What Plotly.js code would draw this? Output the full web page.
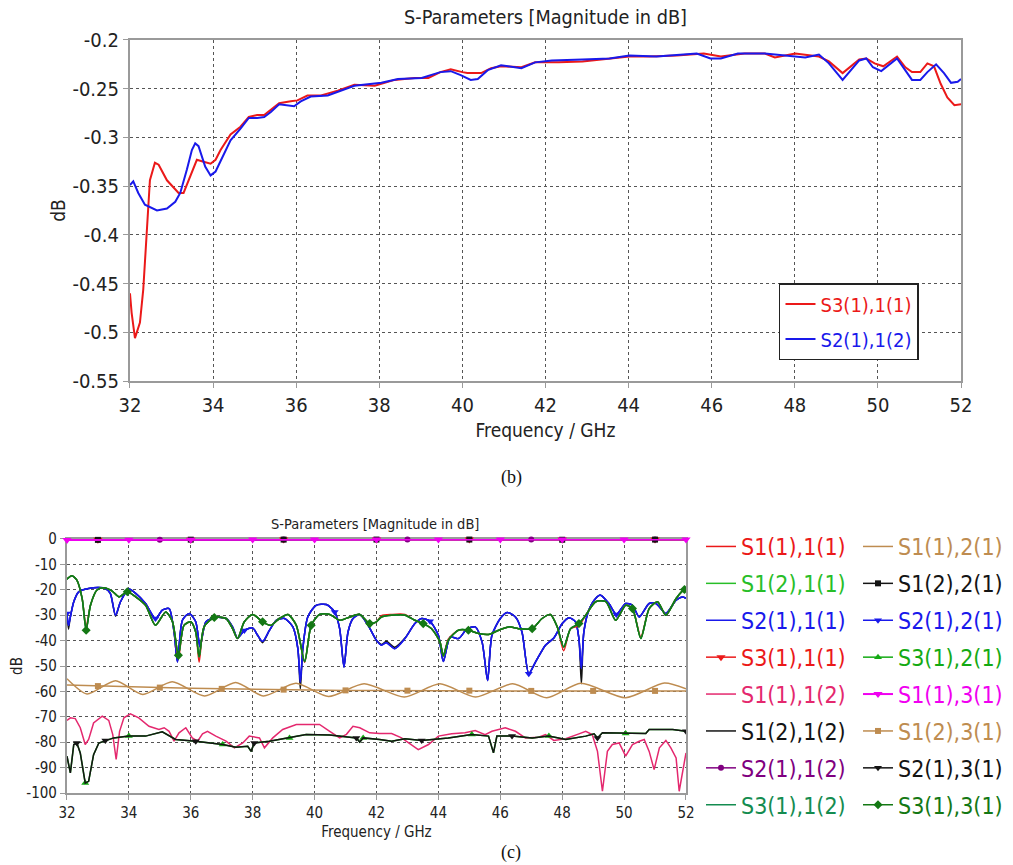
<!DOCTYPE html>
<html><head><meta charset="utf-8">
<script src="https://cdn.plot.ly/plotly-3.0.1.min.js"></script>
<style>html,body{margin:0;padding:0;background:#fff}#chart{width:1013px;height:865px}</style>
</head><body><div id="chart"></div>
<script>
// ---------- Top chart (b) ----------
const topRedF = [32, 32.04, 32.12, 32.24, 32.32, 32.4, 32.48, 32.6, 32.69, 32.89, 33.17, 33.29, 33.45, 33.61, 33.77, 33.94, 34.06, 34.18, 34.42, 34.66, 34.86, 35.06, 35.23, 35.39, 35.59, 35.87, 36.03, 36.27, 36.6, 37.0, 37.4, 37.89, 38.13, 38.37, 38.85, 39.18, 39.47, 39.72, 40, 40.12, 40.45, 40.69, 40.93, 41.42, 41.75, 42.32, 42.89, 43.54, 44.02, 44.51, 45.16, 45.81, 46.22, 46.79, 47.28, 47.52, 48.01, 48.58, 48.82, 49.15, 49.55, 49.72, 49.92, 50.13, 50.46, 50.66, 50.82, 51.02, 51.19, 51.35, 51.51, 51.67, 51.84, 52];
const topRedV = [-0.46, -0.48, -0.506, -0.49, -0.456, -0.395, -0.344, -0.326, -0.328, -0.344, -0.357, -0.357, -0.34, -0.323, -0.325, -0.327, -0.323, -0.313, -0.297, -0.289, -0.279, -0.277, -0.277, -0.272, -0.265, -0.263, -0.262, -0.257, -0.257, -0.252, -0.246, -0.247, -0.244, -0.241, -0.239, -0.239, -0.233, -0.23, -0.233, -0.234, -0.234, -0.229, -0.227, -0.228, -0.223, -0.223, -0.222, -0.219, -0.217, -0.217, -0.216, -0.214, -0.217, -0.214, -0.214, -0.218, -0.214, -0.217, -0.222, -0.234, -0.22, -0.219, -0.224, -0.227, -0.217, -0.228, -0.233, -0.233, -0.224, -0.227, -0.245, -0.259, -0.267, -0.266];
const topBlueF = [32, 32.08, 32.2, 32.36, 32.65, 32.89, 33.09, 33.21, 33.37, 33.49, 33.57, 33.65, 33.81, 33.94, 34.06, 34.22, 34.42, 34.66, 34.86, 35.06, 35.23, 35.39, 35.59, 35.95, 36.11, 36.35, 36.76, 37.4, 38.05, 38.45, 39.02, 39.47, 39.72, 39.96, 40.2, 40.37, 40.61, 40.93, 41.42, 41.75, 42.15, 42.89, 43.54, 44.02, 44.67, 45.64, 45.97, 46.22, 46.63, 47.28, 47.76, 48.01, 48.25, 48.58, 48.82, 49.15, 49.55, 49.72, 49.88, 50.08, 50.46, 50.82, 51.02, 51.19, 51.4, 51.59, 51.76, 51.92, 52];
const topBlueV = [-0.349, -0.345, -0.357, -0.369, -0.375, -0.373, -0.366, -0.357, -0.333, -0.313, -0.306, -0.309, -0.33, -0.339, -0.335, -0.321, -0.303, -0.291, -0.28, -0.28, -0.279, -0.274, -0.266, -0.268, -0.263, -0.258, -0.257, -0.247, -0.244, -0.24, -0.239, -0.233, -0.232, -0.236, -0.241, -0.24, -0.231, -0.226, -0.229, -0.223, -0.221, -0.22, -0.219, -0.216, -0.217, -0.214, -0.219, -0.219, -0.214, -0.214, -0.216, -0.217, -0.218, -0.215, -0.224, -0.241, -0.221, -0.219, -0.228, -0.232, -0.219, -0.241, -0.241, -0.233, -0.225, -0.234, -0.244, -0.243, -0.24];
const topXTicks = [32, 34, 36, 38, 40, 42, 44, 46, 48, 50, 52];
const topYTickVals = [-0.55, -0.5, -0.45, -0.4, -0.35, -0.3, -0.25, -0.2];
const topYTickText = ['-0.55', '-0.5', '-0.45', '-0.4', '-0.35', '-0.3', '-0.25', '-0.2'];

// ---------- Bottom chart (c) ----------
const botYTickVals = [-100, -90, -80, -70, -60, -50, -40, -30, -20, -10, 0];
const botYTickText = ['-100', '-90', '-80', '-70', '-60', '-50', '-40', '-30', '-20', '-10', '0'];
// blue group
const blueF = [32, 32.05, 32.1, 32.22, 32.38, 32.7, 33.03, 33.24, 33.4, 33.57, 33.73, 34, 34.22, 34.54, 34.86, 35.08, 35.3, 35.46, 35.57, 35.73, 35.95, 36.16, 36.3, 36.49, 36.81, 37.14, 37.35, 37.51, 37.73, 38, 38.16, 38.32, 38.54, 38.76, 39.03, 39.3, 39.46, 39.54, 39.62, 39.78, 40.05, 40.38, 40.65, 40.81, 40.95, 41.08, 41.24, 41.46, 41.73, 42, 42.16, 42.32, 42.59, 42.92, 43.24, 43.46, 43.73, 44, 44.16, 44.38, 44.65, 44.92, 45.19, 45.41, 45.59, 45.73, 46, 46.22, 46.49, 46.7, 46.92, 47.14, 47.46, 47.73, 48, 48.22, 48.43, 48.54, 48.62, 48.7, 48.86, 49.08, 49.24, 49.51, 49.75, 50.05, 50.27, 50.49, 50.81, 51.03, 51.35, 51.68, 51.89, 52];
const blueV = [-29.3, -34, -31.3, -24.7, -20.8, -19.5, -19.1, -19.5, -21.4, -30, -24.7, -19.7, -21.4, -25.4, -31.3, -28, -27.4, -36.6, -48.4, -32, -29.3, -32.6, -42.5, -32.6, -30.9, -31.3, -34.6, -39, -36, -35, -37.9, -40.3, -36, -32, -31.3, -34.6, -43.2, -56.3, -43.2, -30.7, -26.1, -25.8, -28.7, -35.3, -50.4, -36.6, -31.3, -29.7, -34, -39.9, -41.8, -40.8, -43.2, -39.2, -33.3, -31.3, -32.4, -37.9, -48.2, -38.6, -39.2, -35.5, -34.6, -40.5, -55.7, -37.9, -31.3, -28.9, -30.7, -36.6, -53, -48.4, -41.8, -39, -33.3, -31, -32.6, -39.2, -51, -36.6, -28, -23.4, -22.1, -25.4, -29.7, -25.4, -26.1, -30.7, -25.4, -25.4, -29.3, -24.1, -22.8, -23.4];
const blackRetV = [-29.3, -35.5, -31.3, -24.7, -20.8, -19.5, -19.1, -19.5, -21.4, -30.4, -24.7, -19.7, -21.4, -25.4, -31.6, -28, -27.4, -36.6, -48.4, -32, -29.3, -32.6, -42.5, -32.6, -30.9, -31.3, -34.6, -39, -36, -35, -37.9, -40.8, -36, -32, -31.3, -34.6, -43.2, -59, -43.2, -30.7, -26.1, -25.8, -28.7, -35.3, -50.4, -36.6, -31.3, -29.7, -34, -39.9, -41.5, -40.3, -42.6, -39, -33.3, -31.3, -32.4, -37.9, -48.2, -38.6, -39.2, -35.5, -34.6, -40.5, -55.7, -37.9, -31.3, -28.9, -30.7, -36.6, -53, -48.4, -41.8, -39, -33.3, -31, -32.6, -39.2, -57, -36.6, -28, -23.4, -22.1, -25.4, -29.7, -25.4, -26.1, -30.7, -25.4, -25.4, -29.3, -24.1, -22.8, -23.4];
// green group
const greenF = [32, 32.16, 32.32, 32.49, 32.62, 32.76, 32.97, 33.19, 33.46, 33.68, 33.95, 34.22, 34.54, 34.86, 35.19, 35.41, 35.6, 35.78, 36, 36.16, 36.27, 36.43, 36.76, 37.14, 37.35, 37.51, 37.73, 38, 38.32, 38.59, 38.86, 39.14, 39.41, 39.68, 39.89, 40.16, 40.49, 40.81, 41.14, 41.46, 41.78, 42, 42.16, 42.49, 42.92, 43.24, 43.51, 43.78, 44.05, 44.16, 44.32, 44.65, 44.97, 45.3, 45.62, 45.95, 46.27, 46.59, 47.03, 47.35, 47.62, 47.84, 48.05, 48.27, 48.54, 48.76, 49.08, 49.41, 49.73, 50.05, 50.27, 50.54, 50.81, 51.08, 51.35, 51.68, 51.95, 52];
const greenV = [-15.8, -14.5, -16.2, -23.4, -35.9, -26.1, -20.1, -19.2, -20.5, -22.8, -20.8, -22.8, -26.1, -34, -28.7, -32.6, -45.8, -34, -32.6, -36.6, -46.4, -34.6, -30.9, -31.3, -35.3, -39.2, -32.6, -29.7, -32.6, -34, -31.3, -29.7, -34, -48.2, -34, -29.7, -29.7, -32, -30.7, -29.7, -33.3, -32.6, -30.7, -30, -30, -32, -33.3, -35.3, -40.5, -46, -39.9, -35.9, -35.9, -37.2, -37.6, -35.9, -34.6, -35.3, -35.3, -31.3, -29.7, -34.6, -42.5, -35.3, -33.3, -30, -24.7, -24.7, -32, -26.1, -27.4, -39.2, -27.4, -24.7, -30, -23.4, -19.9, -20.1];
const redRetV = [-15.8, -14.5, -16.2, -23.4, -34.5, -26.1, -20.1, -19.2, -20.5, -22.8, -20.8, -22.8, -26.1, -34, -28.7, -32.6, -47, -34, -32.6, -36.6, -48.5, -34.6, -30.9, -31.3, -35.3, -39.2, -32.6, -29.7, -32.6, -34, -31.3, -29.7, -34, -48.5, -34, -29.7, -29.7, -32, -30.7, -29.7, -33.3, -32.6, -30.2, -29.7, -29.7, -32, -33.3, -35.3, -40.5, -46, -39.4, -35.9, -35.9, -37.2, -37.6, -35.9, -34.6, -35.3, -35.3, -31.3, -29.7, -34.6, -44, -35.3, -34.2, -30, -24.7, -24.7, -32, -26.1, -27.4, -38.5, -27.4, -24.7, -30, -23.4, -19.9, -20.1];
// brown pair
const brownOscF = [32, 32.65, 33.57, 34.45, 35.4, 36.45, 37.45, 38.35, 39.4, 40.45, 41.6, 42.9, 44.05, 45.2, 46.4, 47.5, 48.6, 50.05, 51.3, 52];
const brownOscV = [-55, -61, -55.8, -61.2, -56.2, -61.8, -56.5, -61.8, -56.8, -62, -57, -62.2, -57, -62.2, -57, -62.5, -56.8, -62.5, -56.7, -59];
const freq1 = [32, 33, 34, 35, 36, 37, 38, 39, 40, 41, 42, 43, 44, 45, 46, 47, 48, 49, 50, 51, 52];
const brownFlatV = [-57.5, -57.9, -58.2, -58.5, -58.8, -59.0, -59.2, -59.3, -59.5, -59.6, -59.6, -59.7, -59.7, -59.7, -59.8, -59.8, -59.8, -59.8, -59.8, -59.8, -59.8];
// low-level curves
const pinkF = [32, 32.11, 32.27, 32.43, 32.59, 32.7, 32.86, 33.14, 33.35, 33.48, 33.59, 33.7, 33.84, 34.05, 34.32, 34.65, 34.97, 35.14, 35.3, 35.46, 35.62, 35.84, 36.05, 36.22, 36.38, 36.54, 36.81, 37.14, 37.41, 37.68, 37.89, 38.22, 38.38, 38.65, 38.97, 39.41, 39.84, 40.16, 40.49, 40.81, 41.03, 41.24, 41.46, 41.78, 42.1, 42.49, 42.81, 43.35, 43.68, 44, 44.43, 44.86, 45.19, 45.51, 45.73, 45.95, 46.16, 46.49, 46.81, 47.24, 47.46, 47.73, 48.11, 48.54, 48.76, 48.97, 49.14, 49.3, 49.46, 49.62, 49.84, 50.05, 50.27, 50.49, 50.65, 50.81, 50.97, 51.14, 51.35, 51.51, 51.68, 51.78, 51.95, 52];
const pinkV = [-71.4, -70.4, -70.7, -74.3, -80.9, -78.9, -72.4, -69.7, -71.4, -77, -86.8, -75.7, -70.4, -68.8, -70.4, -73.7, -75, -74.3, -75.7, -79.6, -76.3, -74.3, -78.3, -79.6, -76.7, -75.7, -77.6, -79.6, -82.2, -80.3, -77.6, -78.3, -82.2, -78.3, -75, -73, -73, -73, -75.7, -78.3, -76.9, -73.7, -74.3, -76.3, -76.6, -76.6, -78.3, -82.9, -80.9, -77.6, -76.7, -76.3, -75.4, -77, -75.7, -75, -74.3, -75.7, -78.3, -78, -77, -79.3, -78.6, -76.7, -75.7, -77, -83.6, -99.3, -83.6, -80.9, -80.3, -85.5, -80.9, -79.6, -78.9, -83.6, -90.8, -82.2, -79.3, -82.2, -86.2, -99.3, -87.5, -84.2];
const lowBlackF = [32, 32.11, 32.22, 32.32, 32.43, 32.59, 32.7, 32.86, 33.03, 33.24, 33.51, 34, 34.54, 35.08, 35.51, 36.16, 36.59, 37.03, 37.46, 37.84, 37.95, 38.05, 38.54, 39.19, 39.73, 40.49, 41.03, 41.35, 41.46, 41.57, 42.1, 42.49, 42.92, 43.46, 44.32, 45.08, 45.62, 45.78, 45.89, 46.38, 47.03, 47.57, 48.11, 48.76, 49.03, 49.14, 49.3, 50.05, 50.7, 50.81, 51.57, 52];
const lowBlackV = [-85.5, -92.1, -80.9, -80.3, -84.2, -96.1, -95.4, -84.9, -80.3, -79.3, -78.3, -77.6, -77.6, -75.9, -78.9, -79.6, -80.3, -80.9, -82, -81.6, -83.6, -80.3, -79.6, -78.3, -77, -77.2, -78, -78.3, -79.9, -78.3, -78.9, -79.6, -78.6, -79.3, -78.3, -77, -77.6, -84.2, -77.6, -77.6, -78.3, -77.6, -78.9, -77.6, -76.7, -78.3, -76.3, -76.6, -76.6, -75, -75, -75.7];
// near 0 dB curves (1 GHz steps)
const s31V = [-0.46, -0.35, -0.325, -0.278, -0.262, -0.252, -0.246, -0.239, -0.233, -0.227, -0.223, -0.222, -0.217, -0.216, -0.216, -0.214, -0.214, -0.228, -0.225, -0.233, -0.266];
const s21_12V = [-0.349, -0.37, -0.337, -0.28, -0.266, -0.251, -0.244, -0.239, -0.236, -0.226, -0.222, -0.22, -0.216, -0.216, -0.219, -0.214, -0.217, -0.233, -0.231, -0.241, -0.24];
const s12_21V = [-0.4, -0.36, -0.33, -0.29, -0.27, -0.26, -0.25, -0.24, -0.24, -0.23, -0.23, -0.22, -0.22, -0.22, -0.22, -0.25, -0.3, -0.24, -0.23, -0.24, -0.25];
const s11_31V = [-0.38, -0.35, -0.32, -0.29, -0.27, -0.26, -0.25, -0.24, -0.24, -0.23, -0.23, -0.22, -0.22, -0.22, -0.22, -0.22, -0.22, -0.23, -0.23, -0.24, -0.25];

const FONT = '"DejaVu Sans Condensed", "DejaVu Sans", sans-serif';
const C = {
  red: 'rgb(235,25,25)', green: 'rgb(40,190,40)', blue: 'rgb(25,25,235)', pink: 'rgb(228,40,110)',
  black: 'rgb(20,20,20)', purple: 'rgb(128,0,128)', teal: 'rgb(20,140,80)', brown: 'rgb(190,140,80)',
  magenta: 'rgb(240,0,240)', green2: 'rgb(20,170,20)', dkgreen: 'rgb(20,120,20)'
};
const lbl = (t, c) => '<span style="color:' + c + '">' + t + '</span>';

function tr(x, y, name, color, opts) {
  opts = opts || {};
  const t = {
    type: 'scatter', x: x, y: y, xaxis: 'x2', yaxis: 'y2', name: lbl(name, color),
    legend: opts.legend, legendrank: opts.rank, legendgroup: name,
    mode: opts.symbol ? 'lines+markers' : 'lines',
    line: {color: color, width: opts.width || 1.5, shape: opts.spline ? 'spline' : 'linear', smoothing: 0.7},
    cliponaxis: opts.clip === false ? false : true, hoverinfo: 'skip'
  };
  if (opts.symbol) t.marker = {symbol: opts.symbol, size: opts.size || 7, color: color, maxdisplayed: opts.maxd || 8};
  return t;
}

const data = [
  {type:'scatter', x: topRedF, y: topRedV, name: lbl('S3(1),1(1)', C.red), legend: 'legend', legendgroup:'t1', mode:'lines', line:{color:C.red, width:2}, hoverinfo:'skip'},
  {type:'scatter', x: topBlueF, y: topBlueV, name: lbl('S2(1),1(2)', C.blue), legend: 'legend', legendgroup:'t2', mode:'lines', line:{color:C.blue, width:2}, hoverinfo:'skip'},

  tr(blueF, blackRetV, 'S1(2),1(2)', C.black, {legend:'legend2', rank:6, spline:true}),
  tr(blueF, blueV, 'S2(1),1(1)', C.blue, {legend:'legend2', rank:3, spline:true}),
  tr(blueF, blueV, 'S2(1),2(1)', C.blue, {legend:'legend3', rank:3, spline:true, symbol:'triangle-down', maxd:7}),
  tr(greenF, redRetV, 'S1(1),1(1)', C.red, {legend:'legend2', rank:1, spline:true}),
  tr(greenF, greenV, 'S1(2),1(1)', C.green, {legend:'legend2', rank:2, spline:true}),
  tr(greenF, greenV, 'S3(1),1(2)', C.teal, {legend:'legend2', rank:8, spline:true}),
  tr(greenF, greenV, 'S3(1),3(1)', C.dkgreen, {legend:'legend3', rank:8, spline:true, symbol:'diamond', size:7, maxd:14}),
  tr(brownOscF, brownOscV, 'S1(1),2(1)', C.brown, {legend:'legend3', rank:1, spline:true}),
  tr(freq1, brownFlatV, 'S1(2),3(1)', C.brown, {legend:'legend3', rank:6, symbol:'square', size:6, maxd:11}),
  tr(pinkF, pinkV, 'S1(1),1(2)', C.pink, {legend:'legend2', rank:5}),
  tr(lowBlackF, lowBlackV, 'S3(1),2(1)', C.green2, {legend:'legend3', rank:4, symbol:'triangle-up', maxd:9}),
  tr(lowBlackF, lowBlackV, 'S2(1),3(1)', C.black, {legend:'legend3', rank:7, symbol:'triangle-down', maxd:10}),
  tr(freq1, s31V, 'S3(1),1(1)', C.red, {legend:'legend2', rank:4, symbol:'triangle-down', size:8, maxd:7, clip:false}),
  tr(freq1, s21_12V, 'S2(1),1(2)', C.purple, {legend:'legend2', rank:7, symbol:'circle', size:6, maxd:6, clip:false}),
  tr(freq1, s12_21V, 'S1(2),2(1)', C.black, {legend:'legend3', rank:2, symbol:'square', size:6, maxd:7, clip:false}),
  tr(freq1, s11_31V, 'S1(1),3(1)', C.magenta, {legend:'legend3', rank:5, symbol:'triangle-down', size:8, maxd:11, clip:false, width:2})
];

const axisBase = {showline:true, mirror:true, linecolor:'#9a9a9a', linewidth:2, ticks:'outside', ticklen:5,
  tickcolor:'#9a9a9a', tickwidth:1, showgrid:true, gridcolor:'#555', griddash:'dot', gridwidth:1, zeroline:false, fixedrange:true, layer:'below traces'};
const tf = (s) => ({family: FONT, size: s, color: '#222'});

const layout = {
  width: 1013, height: 865, margin: {l:0, r:0, t:0, b:0, pad:0},
  paper_bgcolor: '#fff', plot_bgcolor: '#fff', font: {family: FONT, color: '#222'},
  xaxis: Object.assign({}, axisBase, {domain:[0.1283, 0.9487], anchor:'y', range:[32, 52],
    tickvals: topXTicks, ticktext: topXTicks.map(String), tickfont: tf(20),
    title: {text:'Frequency / GHz', font: tf(19), standoff: 8}}),
  yaxis: Object.assign({}, axisBase, {domain:[0.5595, 0.9538], anchor:'x', range:[-0.55, -0.2],
    tickvals: topYTickVals, ticktext: topYTickText, tickfont: tf(20),
    title: {text:'dB', font: tf(19), standoff: 2}}),
  xaxis2: Object.assign({}, axisBase, {domain:[0.0661, 0.6772], anchor:'y2', range:[32, 52],
    tickvals: topXTicks, ticktext: topXTicks.map(String), tickfont: tf(15),
    title: {text:'Frequency / GHz', font: tf(15), standoff: 5}}),
  yaxis2: Object.assign({}, axisBase, {domain:[0.0832, 0.3769], anchor:'x2', range:[-100, 0],
    tickvals: botYTickVals, ticktext: botYTickText, tickfont: tf(15),
    title: {text:'dB', font: tf(15), standoff: 0}}),
  legend: {x: 0.769, y: 0.6728, xanchor:'left', yanchor:'top', bgcolor:'#fff', bordercolor:'#222', borderwidth:1.5,
    font: {family: FONT, size: 20}, tracegroupgap: 6, itemwidth: 30},
  legend2: {x: 0.692, y: 1 - 525/865, xanchor:'left', yanchor:'top', bgcolor:'rgba(0,0,0,0)', borderwidth:0,
    font: {family: FONT, size: 23}, tracegroupgap: 4, itemwidth: 30},
  legend3: {x: 0.847, y: 1 - 525/865, xanchor:'left', yanchor:'top', bgcolor:'rgba(0,0,0,0)', borderwidth:0,
    font: {family: FONT, size: 23}, tracegroupgap: 4, itemwidth: 30},
  annotations: [
    {text:'S-Parameters [Magnitude in dB]', xref:'paper', yref:'paper', x: 545/1013, y: 1 - 17/865, showarrow:false, xanchor:'center', yanchor:'middle', font: tf(19.7)},
    {text:'S-Parameters [Magnitude in dB]', xref:'paper', yref:'paper', x: 375/1013, y: 1 - 524/865, showarrow:false, xanchor:'center', yanchor:'middle', font: tf(14.5)},
    {text:'(b)', xref:'paper', yref:'paper', x: 512/1013, y: 1 - 478/865, showarrow:false, xanchor:'center', yanchor:'middle', font: {family:'"Liberation Serif", serif', size:18, color:'#111'}},
    {text:'(c)', xref:'paper', yref:'paper', x: 511/1013, y: 1 - 852/865, showarrow:false, xanchor:'center', yanchor:'middle', font: {family:'"Liberation Serif", serif', size:18, color:'#111'}}
  ],
  showlegend: true
};

Plotly.newPlot('chart', data, layout, {displayModeBar:false, staticPlot:true});
</script></body></html>
